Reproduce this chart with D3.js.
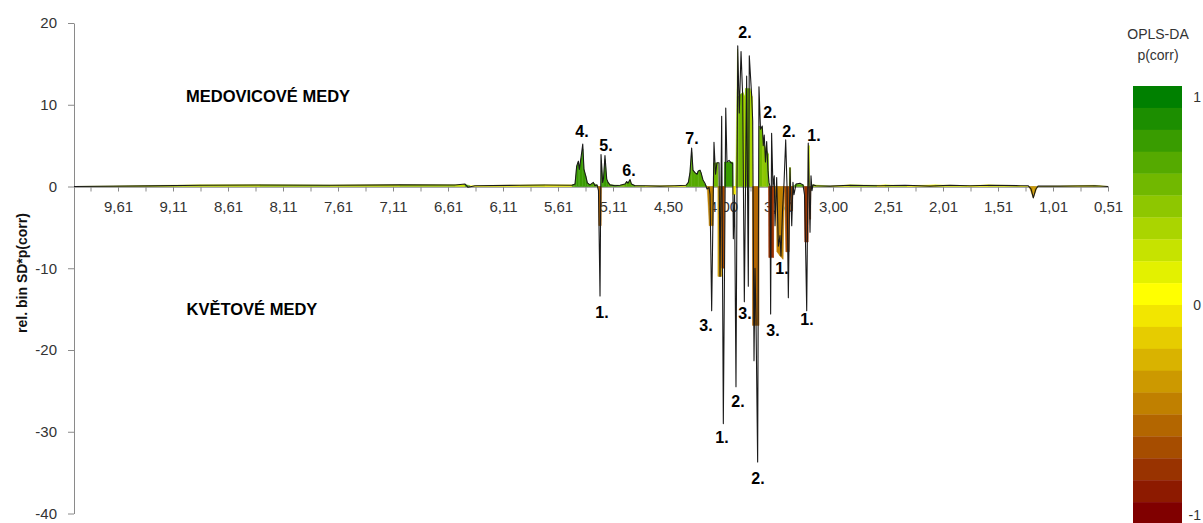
<!DOCTYPE html>
<html>
<head>
<meta charset="utf-8">
<script src="https://cdn.jsdelivr.net/npm/d3@7"></script>
<style>
  body { margin: 0; background: #fff; }
  text { font-family: "Liberation Sans", Arial, sans-serif; }
</style>
</head>
<body>
<svg id="chart" width="1203" height="523"></svg>
<script>
// Chemical shift (ppm) printed under every second tick of the bin axis
const tickLabels = ["9,61","9,11","8,61","8,11","7,61","7,11","6,61","6,11","5,61","5,11",
                    "4,50","4,00","3,50","3,00","2,51","2,01","1,51","1,01","0,51"];
const firstBinPpm = 10.01;
const yTicks = [20, 10, 0, -10, -20, -30, -40];

// Full-resolution trace: [ppm, rel. bin SD*p(corr)]
const spectrum = [
  [10.010,0.00],[9.319,0.08],[8.865,0.15],[8.319,0.18],[7.683,0.15],[7.046,0.20],[6.546,0.18],
  [6.455,0.30],[6.428,-0.10],[6.364,0.10],[5.955,0.15],[5.728,0.18],[5.483,0.15],
  [5.455,0.30],[5.440,2.50],[5.425,3.10],[5.416,2.10],[5.401,3.50],[5.385,5.20],[5.374,2.10],
  [5.358,1.30],[5.343,0.45],[5.319,0.20],[5.289,0.50],[5.274,0.10],[5.255,0.20],[5.242,-0.50],
  [5.228,-13.40],[5.219,3.90],[5.204,0.50],[5.196,1.00],[5.183,3.80],[5.167,0.90],[5.155,0.50],
  [5.137,0.20],[5.088,0.10],[5.032,0.15],[4.977,0.30],[4.958,0.60],[4.944,0.40],[4.921,0.85],
  [4.905,0.30],[4.866,0.10],[4.755,0.10],[4.589,0.05],[4.436,0.10],[4.336,0.15],
  [4.315,0.50],[4.300,1.70],[4.285,4.70],[4.273,2.00],[4.255,1.70],[4.236,1.50],[4.225,1.90],
  [4.209,2.00],[4.200,1.70],[4.182,0.80],[4.164,0.40],[4.145,-0.30],[4.127,-0.10],
  [4.118,-1.00],[4.103,-15.20],[4.082,5.40],[4.068,1.50],[4.055,2.90],[4.036,2.90],[4.027,-11.00],
  [4.012,8.60],[3.997,-29.00],[3.975,9.60],[3.964,3.00],[3.945,3.20],[3.927,2.90],[3.912,2.80],
  [3.906,-6.40],[3.895,-1.00],[3.882,-24.50],[3.866,17.20],[3.852,9.00],[3.836,16.50],[3.821,11.00],
  [3.806,-14.10],[3.785,13.50],[3.770,-12.20],[3.761,16.00],[3.739,11.00],[3.730,8.00],[3.718,-21.30],
  [3.709,-10.00],[3.700,-16.20],[3.685,-33.70],[3.673,12.20],[3.659,7.00],[3.643,7.40],[3.634,5.00],
  [3.625,6.30],[3.614,3.00],[3.603,5.50],[3.591,2.00],[3.582,0.50],[3.573,0.00],[3.567,-15.60],
  [3.558,6.50],[3.546,0.00],[3.534,1.30],[3.527,-4.80],[3.512,1.10],[3.497,-7.30],[3.482,-6.00],
  [3.473,-8.50],[3.459,-3.00],[3.445,0.50],[3.430,5.70],[3.418,0.00],[3.406,-13.60],[3.391,2.30],
  [3.375,-4.80],[3.364,0.50],[3.355,-1.00],[3.336,0.30],[3.300,0.40],[3.273,0.20],[3.259,-1.00],
  [3.250,-6.80],[3.239,-15.20],[3.225,5.30],[3.209,-5.60],[3.200,1.30],[3.191,-0.50],[3.182,0.20],
  [3.155,0.10],[3.027,0.05],[2.849,0.15],[2.581,0.10],[2.355,0.15],[2.128,0.05],[1.946,0.15],
  [1.765,0.10],[1.583,0.15],[1.310,0.10],[1.237,0.10],[1.210,-0.30],[1.189,-1.40],[1.165,-0.30],
  [1.146,0.05],[0.946,0.05],[0.628,0.10],[0.510,0.00]
];

// Binned values with their OPLS-DA p(corr): [ppm, value, p(corr)]
const binFill = [
  [10.010,0,0.25],[9.319,0.12,0.25],[8.865,0.2,0.25],[8.319,0.22,0.35],[7.683,0.18,0.25],[7.046,0.22,0.35],
  [6.546,0.2,0.25],[6.455,0.25,0.65],[6.410,0.1,0.05],[5.955,0.18,0.15],[5.728,0.2,0.05],[5.483,0.2,0.65],
  [5.455,0.3,0.75],[5.440,2.5,0.75],[5.425,3.0,0.75],[5.416,2.1,0.75],[5.401,3.4,0.75],[5.385,4.6,0.75],
  [5.374,2.1,0.75],[5.358,1.3,0.75],[5.343,0.45,0.75],[5.319,0.2,0.65],[5.289,0.45,0.65],[5.255,0.15,0.55],
  [5.242,0,-0.55],[5.237,-4.8,-0.55],[5.219,-4.8,-0.55],[5.216,0,0.75],
  [5.215,3.2,0.75],[5.204,0.5,0.75],[5.196,1.0,0.75],[5.183,3.3,0.75],[5.167,0.9,0.75],[5.155,0.5,0.65],
  [5.137,0.2,0.65],[5.032,0.15,0.55],[4.977,0.3,0.65],[4.958,0.6,0.65],[4.944,0.4,0.65],[4.921,0.8,0.65],
  [4.905,0.3,0.65],[4.866,0.12,0.35],[4.755,0.1,0.15],[4.589,0.08,0.05],[4.436,0.12,0.15],[4.336,0.15,0.65],
  [4.315,0.5,0.65],[4.300,1.7,0.65],[4.285,4.2,0.65],[4.273,2.0,0.65],[4.255,1.7,0.65],[4.236,1.5,0.65],
  [4.225,1.9,0.65],[4.209,2.0,0.65],[4.200,1.7,0.65],[4.182,0.8,0.65],[4.164,0.3,0.65],[4.145,0,-0.45],
  [4.124,-4.8,-0.45],[4.091,-4.8,-0.45],[4.088,0,0.55],
  [4.086,2.9,0.55],[4.047,2.9,0.55],[4.045,0,-0.35],
  [4.044,-11,-0.35],[4.014,-11,-0.35],[4.012,0,-0.65],
  [4.010,-10,-0.65],[3.988,-10,-0.65],[3.986,0,0.75],
  [3.985,3.0,0.75],[3.912,3.0,0.75],[3.910,0,-0.05],
  [3.908,-1,-0.05],[3.888,-1,-0.05],[3.886,0,0.35],
  [3.868,16.8,0.35],[3.861,11,0.55],[3.823,11.5,0.55],[3.818,11.5,0.35],[3.800,11,0.35],[3.795,12,0.55],
  [3.755,12,0.35],[3.734,11,0.35],[3.732,0,-0.55],
  [3.730,-17,-0.55],[3.675,-17,-0.55],[3.673,0,0.55],
  [3.671,7.4,0.55],[3.643,7.2,0.45],[3.636,5.5,0.45],[3.605,4.5,0.55],[3.588,4.0,0.55],[3.586,0,-0.75],
  [3.582,-8.7,-0.75],[3.541,-8.7,-0.75],[3.536,0,-0.45],
  [3.527,-2,-0.45],[3.514,0,-0.45],[3.509,-8.0,-0.45],[3.482,-8.5,-0.45],[3.455,-8.9,-0.45],[3.441,0,-0.65],
  [3.427,-8,-0.65],[3.400,-8,-0.65],[3.398,0,0.35],
  [3.395,2.3,0.35],[3.386,2.3,0.35],[3.385,0,-0.65],
  [3.382,-3,-0.65],[3.368,-3,-0.65],[3.364,0,0.65],
  [3.336,0.3,0.65],[3.273,0.25,0.65],[3.259,0,-0.75],
  [3.255,-6.8,-0.75],[3.227,-6.8,-0.75],[3.225,0,0.25],
  [3.224,5.0,0.25],[3.216,5.0,0.25],[3.215,0,-0.65],
  [3.213,-4,-0.65],[3.204,-4,-0.65],[3.202,0,0.55],
  [3.182,0.2,0.35],[3.027,0.05,0.15],[2.849,0.2,0.35],[2.608,0.15,0.05],[2.537,0.2,0.25],[2.337,0.1,0.05],
  [2.083,0.2,0.15],[1.792,0.1,0.05],[1.601,0.2,0.15],[1.310,0.1,0.05],[1.228,0,-0.35],[1.189,-1.4,-0.35],
  [1.151,0,0.05],[0.646,0.15,0.15],[0.583,0.1,0.05],[0.510,0,0.05]
];

// p(corr) classes from +1 (top) to -1 (bottom), 0.1 wide each
const legendColors = [
  "#008000","#1c8e00","#399c00","#55aa00","#71b800","#8ec700","#aad500","#c6e300","#e3f100","#ffff00",
  "#f2e600","#e6cc00","#d9b300","#cc9900","#c08000","#b36600","#a64d00","#993300","#8d1a00","#800000"
];
const legendTicks = [["1", 0.95], ["0", 0], ["-1", -0.96]];

// Signal assignments: [label, ppm, value]
const peakLabels = [
  ["4.",5.392,6.8],["5.",5.174,4.97],["6.",4.933,2.0],["7.",4.282,5.83],
  ["2.",3.800,18.8],["2.",3.573,9.1],["2.",3.400,6.7],["1.",3.173,6.3],
  ["1.",5.210,-15.35],["3.",4.155,-16.95],["1.",4.009,-30.7],["2.",3.864,-26.25],
  ["3.",3.800,-15.5],["2.",3.682,-35.7],["3.",3.546,-17.6],["1.",3.464,-10.0],["1.",3.236,-16.3]
];
const groupLabels = [["MEDOVICOVÉ MEDY", 8.246, 11.1], ["KVĚTOVÉ MEDY", 8.392, -15.0]];

const svg = d3.select("#chart");

// bin axis: 0.01 ppm bins, label every 50th bin, ticks every 25th
const nBins = 940;
const tickPpm = tickLabels.map(s => +s.replace(",", "."));
const binOf = d3.scaleLinear()
  .domain([firstBinPpm, ...tickPpm])
  .range([0, ...tickPpm.map((d, i) => 40 + 50 * i)]);
const px = d3.scaleLinear().domain([0, nBins]).range([74, 1108]);
const x = ppm => px(binOf(ppm));
const y = d3.scaleLinear().domain([-40, 20]).range([513.5, 23]);

const colorOf = p => legendColors[Math.max(0, Math.min(19, Math.floor((1 - p) * 10 + 1e-6)))];

// horizontal axis at zero
const xAxis = d3.axisBottom(px)
  .tickValues(d3.range(15, nBins + 1, 25))
  .tickSize(5).tickSizeOuter(0).tickPadding(10)
  .tickFormat(b => (b >= 40 && (b - 40) % 50 === 0) ? tickLabels[(b - 40) / 50] : "");
const gx = svg.append("g").attr("transform", `translate(0,${y(0)})`).call(xAxis);
gx.select(".domain").attr("stroke", "#555");
gx.selectAll(".tick line").attr("stroke", "#8a8a8a");
gx.selectAll(".tick text").attr("font-size", 15).attr("fill", "#333")
  .attr("font-family", "'Liberation Sans', Arial, sans-serif");

// vertical axis (plain hyphen for negatives)
const yAxis = d3.axisLeft(y).tickValues(yTicks).tickSize(6).tickSizeOuter(0).tickPadding(11)
  .tickFormat(d => String(d));
const gy = svg.append("g").attr("transform", `translate(${px(0)},0)`).call(yAxis);
gy.select(".domain").attr("stroke", "#8a8a8a");
gy.selectAll(".tick line").attr("stroke", "#8a8a8a");
gy.selectAll(".tick text").attr("font-size", 15).attr("fill", "#333")
  .attr("font-family", "'Liberation Sans', Arial, sans-serif");

svg.append("text")
  .attr("transform", `translate(22.5,273) rotate(-90)`)
  .attr("text-anchor", "middle").attr("dy", "0.35em")
  .attr("font-size", 14).attr("font-weight", "bold").attr("fill", "#111")
  .text("rel. bin SD*p(corr)");

// coloured fill, one piece per bin step
const area = d3.area().x(d => x(d[0])).y0(y(0)).y1(d => y(d[1]));
const fillG = svg.append("g");
for (let i = 0; i < binFill.length - 1; i++) {
  const c = colorOf(binFill[i][2]);
  fillG.append("path")
    .attr("d", area([binFill[i], binFill[i + 1]]))
    .attr("fill", c).attr("stroke", c).attr("stroke-width", 0.4);
}

// black trace
svg.append("path")
  .datum(spectrum)
  .attr("d", d3.line().x(d => x(d[0])).y(d => y(d[1])))
  .attr("fill", "none").attr("stroke", "#1a1a1a")
  .attr("stroke-width", 1.1).attr("stroke-linejoin", "round");

// assignments
svg.append("g").selectAll("text").data(peakLabels).join("text")
  .attr("x", d => x(d[1])).attr("y", d => y(d[2]))
  .attr("dy", "0.35em").attr("text-anchor", "middle")
  .attr("font-size", 16).attr("font-weight", "bold").attr("fill", "#000")
  .text(d => d[0]);

svg.append("g").selectAll("text").data(groupLabels).join("text")
  .attr("x", d => x(d[1])).attr("y", d => y(d[2]))
  .attr("dy", "0.35em").attr("text-anchor", "middle")
  .attr("font-size", 16.5).attr("font-weight", "bold").attr("fill", "#000")
  .text(d => d[0]);

// p(corr) colour bar
const ly = d3.scaleLinear().domain([1, -1]).range([86, 524]);
const lg = svg.append("g");
lg.selectAll("rect").data(legendColors).join("rect")
  .attr("x", 1133).attr("width", 49)
  .attr("y", (d, i) => ly(1 - 0.1 * i))
  .attr("height", (d, i) => ly(1 - 0.1 * (i + 1)) - ly(1 - 0.1 * i) + 0.3)
  .attr("fill", d => d);
lg.selectAll("text.lt").data(legendTicks).join("text").attr("class", "lt")
  .attr("x", 1201).attr("y", d => ly(d[1])).attr("dy", "0.35em")
  .attr("text-anchor", "end").attr("font-size", 14).attr("fill", "#333")
  .text(d => d[0]);
lg.append("text").attr("x", 1158).attr("y", 39).attr("text-anchor", "middle")
  .attr("font-size", 14).attr("fill", "#333").text("OPLS-DA");
lg.append("text").attr("x", 1158).attr("y", 60).attr("text-anchor", "middle")
  .attr("font-size", 14).attr("fill", "#333").text("p(corr)");
</script>
</body>
</html>
